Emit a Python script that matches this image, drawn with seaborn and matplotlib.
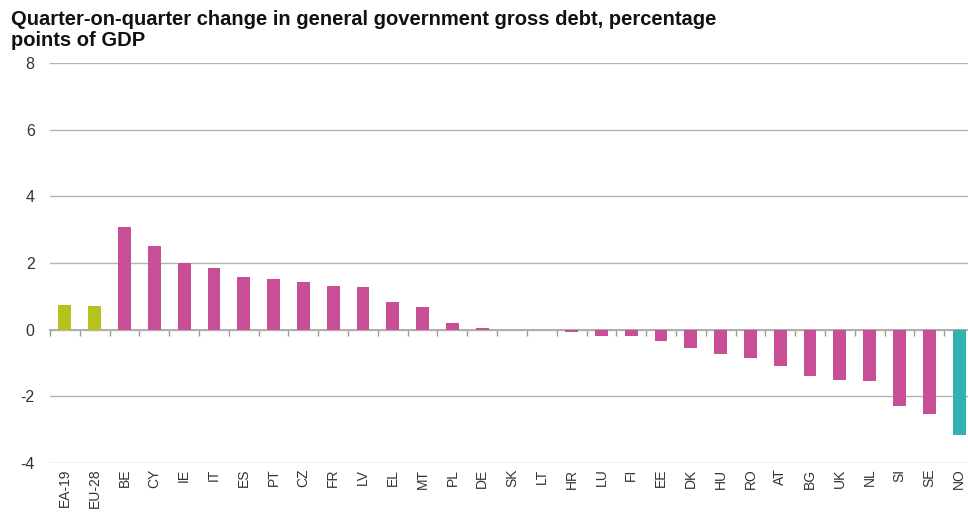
import numpy as np
import pandas as pd
import matplotlib
matplotlib.use("Agg")
import matplotlib.pyplot as plt
import seaborn as sns

categories = ["EA-19", "EU-28", "BE", "CY", "IE", "IT", "ES", "PT", "CZ", "FR", "LV", "EL",
              "MT", "PL", "DE", "SK", "LT", "HR", "LU", "FI", "EE", "DK", "HU", "RO", "AT",
              "BG", "UK", "NL", "SI", "SE", "NO"]
values = [0.74, 0.71, 3.09, 2.51, 2.01, 1.86, 1.59, 1.52, 1.44, 1.32, 1.28, 0.83,
          0.67, 0.20, 0.06, 0.0, 0.0, -0.06, -0.18, -0.18, -0.33, -0.54, -0.73, -0.84, -1.09,
          -1.40, -1.51, -1.55, -2.29, -2.54, -3.15]
groups = ["aggregate", "aggregate"] + ["member"] * 28 + ["other"]
palette = {"aggregate": "#B8C21E", "member": "#C84E96", "other": "#33B1B0"}
title = "Quarter-on-quarter change in general government gross debt, percentage\npoints of GDP"
yticks = [-4, -2, 0, 2, 4, 6, 8]

df = pd.DataFrame({"country": categories, "value": values, "group": groups})

sns.set_theme(style="white")
plt.rcParams["font.family"] = ["Liberation Sans", "DejaVu Sans"]
plt.rcParams["axes.unicode_minus"] = False

fig = plt.figure(figsize=(9.68, 5.18), dpi=100)
ax = fig.add_axes([50 / 968, 1 - 463 / 518, (974 - 50) / 968, (463 - 63) / 518])

sns.barplot(data=df, x="country", y="value", hue="group", palette=palette,
            dodge=False, width=0.43, legend=False, ax=ax, linewidth=0, saturation=1)

ax.set_ylim(-4, 8)
ax.set_xlim(-0.5, len(categories) - 0.5)
ax.set_yticks(yticks)
ax.set_yticklabels([str(v) for v in yticks], fontsize=11.5, color="#333333")
ax.yaxis.grid(True, color="#b4b4b4", linewidth=1.0)
ax.set_axisbelow(True)
for s in ax.spines.values():
    s.set_visible(False)
ax.tick_params(axis="y", length=0, pad=11)
ax.tick_params(axis="x", length=0, pad=4, labelrotation=90, labelsize=10, labelcolor="#333333")
ax.set_xlabel("")
ax.set_ylabel("")

# zero axis line with ticks between categories
sec = ax.secondary_xaxis(4 / 12)
sec.set_xticks(np.arange(-0.5, len(categories), 1.0))
sec.xaxis.set_ticks_position("bottom")
sec.tick_params(axis="x", direction="out", length=4, width=1, color="#999999",
                labelbottom=False, labeltop=False)
for name, s in sec.spines.items():
    s.set_visible(name == "bottom")
sec.spines["bottom"].set_color("#999999")
sec.spines["bottom"].set_linewidth(1.2)

fig.text(11 / 968, 1 - 10 / 518, title, fontsize=14.5, fontweight="bold",
         va="top", ha="left", color="#111111", linespacing=1.12)

fig.savefig("out.png", dpi=100)
